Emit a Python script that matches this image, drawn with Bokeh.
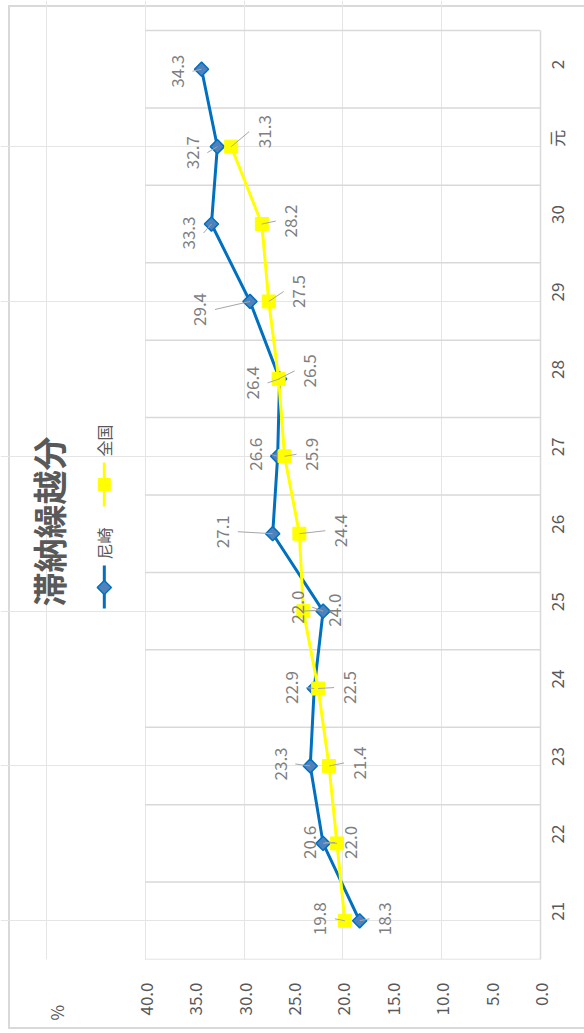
import math
from bokeh.plotting import figure
from bokeh.models import Range1d, FixedTicker, LinearAxis, PrintfTickFormatter
from bokeh.core.properties import value
from bokeh.embed import file_html
from bokeh.resources import INLINE

# ---------------- data ----------------
years = ["21", "22", "23", "24", "25", "26", "27", "28", "29", "30", "元", "2"]
amagasaki = [18.3, 22.0, 23.3, 22.9, 22.0, 27.1, 26.6, 26.4, 29.4, 33.3, 32.7, 34.3]
zenkoku = [19.8, 20.6, 21.4, 22.5, 24.0, 24.4, 25.9, 26.5, 27.5, 28.2, 31.3, float("nan")]
series_names = ["尼崎", "全国"]
value_ticks = [0, 5, 10, 15, 20, 25, 30, 35, 40]
title_text = "滞納繰越分"
unit_text = "%"

# data-label placement (pixel offsets from each point; layout only)
amagasaki_dx = [25, 27, -30, -23, -26, -50, -22, -27, -50, -23, -25, -24]
amagasaki_dy = [-2, -1, -2, -1, -4, -2, -2, 4, 8, 9, 6, 2]
zenkoku_dx = [-25, -27, 30, 31, 31, 41, 27, 31, 30, 29, 33, 0]
zenkoku_dy = [-2, -1, -3, -1, -1, -3, -2, -8, -10, -3, -15, 0]

# ---------------- layout (canvas pixels) ----------------
CANVAS_W, CANVAS_H = 584, 1033
PLOT_L, PLOT_R, PLOT_T, PLOT_B = 145, 541, 30, 959
VMAX = 40
K = (PLOT_R - PLOT_L) / VMAX          # px per value unit
S = (PLOT_B - PLOT_T) / len(years)    # px per category

def px2x(px):
    return (PLOT_R - px) / K

def py2y(py):
    return -0.5 + (PLOT_B - py) / S

FONT_NAME = "Noto Sans CJK JP"
FONT = value(FONT_NAME)
BLUE = "#0070C0"
YELLOW = "#FFFF00"
GRID = "#D9D9D9"
TXT = "#595959"
LBL = "#7F7F7F"

p = figure(width=CANVAS_W, height=CANVAS_H, output_backend="svg",
           toolbar_location=None, x_axis_location=None, y_axis_location=None, title=None,
           x_range=Range1d(px2x(0), 0), y_range=Range1d(-0.5, py2y(0)),
           min_border_left=0, min_border_top=0,
           min_border_right=CANVAS_W - PLOT_R,
           min_border_bottom=CANVAS_H - PLOT_B)
p.outline_line_color = None
# transparent canvas; the outer chart border is the page element's background
p.background_fill_color = None
p.border_fill_color = None
_g = "linear-gradient(#D9D9D9,#D9D9D9)"
p.styles = {"background": (f"{_g} 8px 5px / 2px 1024px no-repeat, "
                           f"{_g} 8px 5px / 700px 2px no-repeat, "
                           f"{_g} 8px 1027px / 700px 2px no-repeat, #FFFFFF")}

idx = list(range(len(years)))

# category gridlines (between categories)
bounds = [i - 0.5 for i in range(len(years) + 1)]
p.segment(x0=[0] * len(bounds), y0=bounds, x1=[VMAX] * len(bounds), y1=bounds,
          line_color=GRID, line_width=1.5)

# value axis (bottom); the unit "%" sits at the far (top) end of the value axis
unit_pos = round(px2x(56))
xaxis = LinearAxis(ticker=FixedTicker(ticks=value_ticks + [unit_pos]),
                   formatter=PrintfTickFormatter(format="%.1f"),
                   major_label_overrides={unit_pos: unit_text + "\u2007\u2007\u2009"})
xaxis.axis_line_color = None
xaxis.major_tick_line_color = None
xaxis.minor_tick_line_color = None
xaxis.major_label_orientation = math.pi / 2
xaxis.major_label_standoff = 17
xaxis.major_label_text_font = FONT_NAME
xaxis.major_label_text_font_size = "17px"
xaxis.major_label_text_color = TXT
p.add_layout(xaxis, "below")

# category axis (right)
yaxis = LinearAxis(ticker=FixedTicker(ticks=idx),
                   major_label_overrides={i: y for i, y in enumerate(years)})
yaxis.bounds = (-0.5, len(years) - 0.5)
yaxis.axis_line_color = GRID
yaxis.axis_line_width = 1.5
yaxis.major_tick_line_color = None
yaxis.minor_tick_line_color = None
yaxis.major_label_orientation = math.pi / 2
yaxis.major_label_standoff = 10
yaxis.major_label_text_line_height = 1.0
yaxis.major_label_text_font = FONT_NAME
yaxis.major_label_text_font_size = "17px"
yaxis.major_label_text_color = TXT
p.add_layout(yaxis, "right")

# series
p.line(amagasaki, idx, line_color=BLUE, line_width=3)
p.scatter(amagasaki, idx, marker="square", angle=math.pi / 4, size=10,
          fill_color="#4F81BD", line_color=BLUE, line_width=1.5)
p.line(zenkoku, idx, line_color=YELLOW, line_width=3)
p.scatter(zenkoku, idx, marker="square", size=13, fill_color=YELLOW, line_color=YELLOW)

# leader lines + data labels
LEADER_GAP = 15

def add_labels(vals, dxs, dys):
    x0, y0, x1, y1, tx, ty, tt, ox, oy = [], [], [], [], [], [], [], [], []
    for i, (v, dx, dy) in enumerate(zip(vals, dxs, dys)):
        if v != v:
            continue
        sx = dx - math.copysign(LEADER_GAP, dx)
        x0.append(v); y0.append(i)
        x1.append(v - sx / K); y1.append(i - dy / S)
        tx.append(v); ty.append(i); tt.append(f"{v:.1f}"); ox.append(dx); oy.append(dy)
    p.segment(x0=x0, y0=y0, x1=x1, y1=y1, line_color="#A6A6A6", line_width=1)
    p.text(x=tx, y=ty, text=tt, x_offset=ox, y_offset=oy, angle=math.pi / 2,
           text_align="center", text_baseline="middle", text_font=FONT,
           text_font_size="17px", text_color=LBL)

add_labels(amagasaki, amagasaki_dx, amagasaki_dy)
add_labels(zenkoku, zenkoku_dx, zenkoku_dy)

# title
p.text(x=[px2x(48)], y=[py2y(521)], text=[title_text], angle=math.pi / 2,
       text_align="center", text_baseline="middle", text_font=FONT,
       text_font_size="34px", text_font_style="bold", text_color=TXT)

# legend (drawn rotated, like the chart)
LEG_X = px2x(104)
p.line([LEG_X, LEG_X], [py2y(608), py2y(565)], line_color=BLUE, line_width=3)
p.scatter([LEG_X], [py2y(587)], marker="square", angle=math.pi / 4, size=10,
          fill_color="#4F81BD", line_color=BLUE, line_width=1.5)
p.line([LEG_X, LEG_X], [py2y(506), py2y(462)], line_color=YELLOW, line_width=3)
p.scatter([LEG_X], [py2y(484)], marker="square", size=12, fill_color=YELLOW, line_color=YELLOW)
p.text(x=[LEG_X, LEG_X], y=[py2y(543), py2y(440)], text=series_names, angle=math.pi / 2,
       text_align="center", text_baseline="middle", text_font=FONT,
       text_font_size="16px", text_color=TXT)

open("out.html", "w").write(file_html(p, INLINE))
